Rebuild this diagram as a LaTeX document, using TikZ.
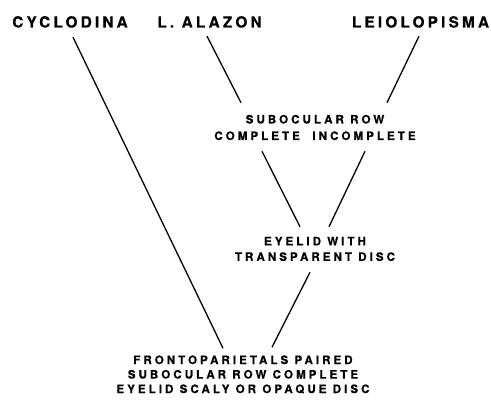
\documentclass[tikz,border=0pt]{standalone}
\usepackage{fontspec}
\newfontfamily\taxonfont[LetterSpace=21,FakeBold=0.6]{TeX Gyre Heros}
\newfontfamily\traitfont[LetterSpace=26,FakeBold=0.6]{TeX Gyre Heros}
\begin{document}
\begin{tikzpicture}[x=1pt,y=-1pt,
    taxon/.style={font=\taxonfont\bfseries\fontsize{15.3}{18}\selectfont,inner sep=0pt,text height=11pt,text depth=0pt},
    trait/.style={font=\traitfont\bfseries\fontsize{11.6}{14.5}\selectfont,inner sep=0pt,align=center},
    branch/.style={line width=1.3pt}]
          \useasboundingbox (0,0) rectangle (491,401);
          \node[taxon] at (70,22) (cyc) {CYCLODINA};
          \node[taxon] at (209.5,22) (ala) {L. ALAZON};
          \node[taxon] at (420.5,22) (lei) {LEIOLOPISMA};
          \node[trait] at (315,127.5) (sub) {SUBOCULAR ROW\\[2pt]COMPLETE\ \ INCOMPLETE};
          \node[trait] at (315,249) (eye) {EYELID WITH\\[1pt]TRANSPARENT DISC};
          \node[trait] at (243,374.5) (base) {FRONTOPARIETALS PAIRED\\SUBOCULAR ROW COMPLETE\\EYELID SCALY OR\ OPAQUE DISC};
          \path[branch] ([xshift=3pt,yshift=-9.5pt]cyc.south) edge ([xshift=-20pt,yshift=7pt]base.north);
          \path[branch] ([xshift=-2.5pt,yshift=-8.5pt]ala.south) edge ([xshift=-74pt,yshift=12pt]sub.north);
          \path[branch] ([xshift=-1.5pt,yshift=-8.5pt]lei.south) edge ([xshift=72pt,yshift=12pt]sub.north);
          \path[branch] ([xshift=-53pt,yshift=-11pt]sub.south) edge ([xshift=-15pt,yshift=10pt]eye.north);
          \path[branch] ([xshift=50pt,yshift=-11pt]sub.south) edge ([xshift=14pt,yshift=10pt]eye.north);
          \path[branch] ([xshift=-5pt,yshift=-11pt]eye.south) edge ([xshift=29pt,yshift=8pt]base.north);
        \end{tikzpicture}
\end{document}
